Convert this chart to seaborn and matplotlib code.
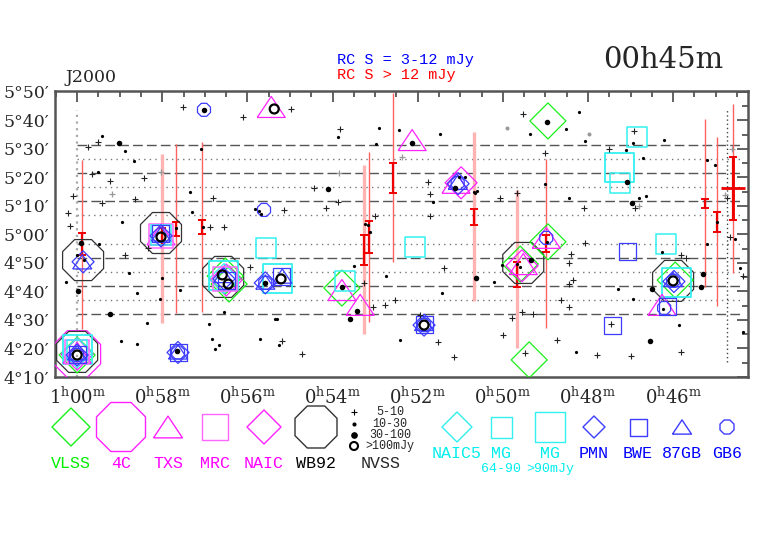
import numpy as np
import matplotlib
matplotlib.use("Agg")
import matplotlib.pyplot as plt
from matplotlib.ticker import MultipleLocator, FuncFormatter
import seaborn as sns

# -----------------------------
# NVSS sources: RA in minutes of time (after 0h), Dec in arcmin
# -----------------------------
nvss_5_10_ra = [57.51, 56.10, 59.74, 59.51, 59.65, 59.22, 58.43, 60.09, 58.64, 59.41,
                60.21, 60.16, 56.88, 56.55, 56.81, 58.87, 58.33, 55.94, 54.97, 53.82,
                54.43, 53.87, 54.15, 55.14, 53.00, 51.75, 51.71, 51.71, 50.06, 49.66,
                53.26, 53.05, 52.77, 52.53, 51.38, 51.52, 51.14, 49.99, 49.78, 51.94,
                55.18, 54.71, 49.52, 49.01, 47.50, 46.92, 46.89, 48.09, 44.73, 48.07,
                48.40, 48.44, 48.35, 48.44, 48.63, 48.44, 49.29, 49.55, 45.81, 45.69,
                44.36, 44.66, 48.72, 47.79, 46.99, 45.81, 49.48, 47.46]
nvss_5_10_dec = [344.7, 341.2, 330.7, 332.5, 321.2, 318.8, 319.8, 313.5, 312.5, 311.0,
                 307.5, 303.0, 302.6, 302.6, 312.8, 292.8, 295.3, 288.6, 344.0, 337.0,
                 316.3, 311.4, 309.3, 308.6, 306.5, 318.4, 314.2, 306.5, 312.8, 314.6,
                 283.0, 274.6, 275.3, 277.0, 288.2, 262.3, 257.0, 264.7, 270.7, 271.7,
                 262.6, 258.1, 342.3, 328.6, 330.0, 336.3, 309.3, 309.3, 312.8, 297.0,
                 293.2, 290.0, 284.0, 282.6, 277.0, 274.6, 272.1, 272.8, 292.8, 291.7,
                 285.4, 299.1, 263.0, 257.7, 257.4, 258.8, 258.4, 268.6]

faint_ra = [58.03, 59.18, 52.37, 53.85, 46.80, 44.61, 44.78]
faint_dec = [321.9, 314.2, 327.2, 321.6, 310.0, 330.0, 313.9]
faint_dot_ra = [49.90, 47.97]
faint_dot_dec = [337.4, 335.3]

nvss_10_30_ra = [59.41, 58.87, 59.51, 58.66, 58.94, 57.35, 57.30, 57.09, 57.67, 57.04,
                 55.82, 55.72, 55.68, 60.00, 59.84, 59.48, 60.26, 58.78, 58.59, 58.36,
                 58.97, 58.59, 58.00, 58.05, 57.58, 56.90, 56.83, 56.76, 56.66, 56.55,
                 55.70, 53.87, 52.91, 52.98, 52.44, 51.47, 51.64, 50.89, 51.03, 50.67,
                 50.60, 50.65, 53.23, 53.16, 53.12, 53.49, 52.74, 51.43, 50.20, 50.02,
                 55.35, 55.30, 55.25, 52.41, 49.36, 48.21, 48.51, 48.07, 47.10, 46.94,
                 46.70, 46.21, 49.01, 48.44, 46.80, 46.63, 45.20, 45.01, 44.97, 47.29,
                 46.94, 46.26, 45.20, 44.54, 44.43, 45.86, 48.28, 44.36, 49.66, 49.59,
                 48.96, 46.23]
nvss_10_30_dec = [334.6, 329.3, 321.9, 325.8, 304.4, 314.9, 307.9, 330.0, 302.3, 302.6,
                  308.9, 308.2, 307.2, 292.8, 291.0, 296.7, 283.3, 286.5, 279.5, 268.9,
                  262.6, 261.6, 284.7, 277.4, 280.5, 268.6, 263.3, 259.8, 261.2, 272.8,
                  263.3, 334.2, 337.4, 331.8, 336.7, 335.3, 311.4, 320.2, 320.2, 314.9,
                  315.3, 314.6, 303.7, 303.3, 300.9, 288.9, 285.4, 279.5, 283.3, 289.3,
                  270.3, 270.3, 261.2, 263.0, 335.3, 343.0, 337.0, 332.8, 329.6, 332.1,
                  326.8, 333.2, 317.7, 312.8, 312.8, 313.5, 326.1, 324.4, 304.4, 280.9,
                  277.4, 293.9, 296.7, 298.4, 288.2, 268.2, 258.8, 265.8, 289.6, 288.6,
                  297.4, 273.9]

nvss_30_100_ra = [59.01, 59.91, 59.98, 59.22, 57.65, 54.10, 50.63, 53.59, 53.42, 48.96,
                  47.08, 46.96, 49.34, 46.49, 45.34, 45.30, 46.54, 52.13, 53.78, 57.02,
                  51.12, 55.58]
nvss_30_100_dec = [332.1, 297.0, 280.2, 272.1, 259.1, 316.0, 284.7, 270.3, 273.2, 339.5,
                   318.4, 311.0, 291.0, 280.9, 281.6, 286.1, 262.6, 332.1, 281.6, 343.7,
                   316.3, 283.0]

nvss_100_ra = [60.00, 58.03, 56.59, 56.45, 55.37, 55.21, 51.85, 46.00]
nvss_100_dec = [257.7, 299.1, 285.8, 282.6, 344.0, 284.4, 268.2, 283.7]

# -----------------------------
# Other catalogues
# -----------------------------
vlss_ra = [60.00, 56.52, 56.43, 53.78, 48.94, 48.94, 49.59, 49.38, 45.95]
vlss_dec = [257.7, 285.4, 282.6, 281.2, 339.8, 297.4, 289.6, 256.0, 284.0]
c4_ra = [60.00]
c4_dec = [258.0]
txs_ra = [60.00, 58.03, 52.13, 55.44, 51.10, 53.78, 53.35, 49.52, 48.98, 46.26]
txs_dec = [258.5, 300.0, 333.1, 344.7, 318.1, 280.5, 275.3, 289.6, 298.8, 275.3]
mrc_ra = [60.00, 58.03, 56.52]
mrc_dec = [258.8, 299.5, 284.4]
naic_ra = [60.00, 50.98, 56.50, 49.55]
naic_dec = [258.0, 318.1, 284.0, 289.0]
wb92_ra = [60.00, 59.86, 58.03, 56.57, 49.52, 46.00]
wb92_dec = [258.8, 291.0, 300.5, 285.1, 290.0, 283.7]
naic5_ra = [60.00, 56.55]
naic5_dec = [258.5, 284.5]
mg64_ra = [55.56, 52.06, 46.16, 46.85, 47.25, 53.71, 58.03, 60.00]
mg64_dec = [295.3, 295.6, 296.7, 334.2, 318.1, 283.7, 299.8, 259.5]
mg90_ra = [55.30, 47.27, 45.93, 60.00, 56.55]
mg90_dec = [284.7, 323.3, 283.0, 259.5, 285.5]
pmn_ra = [60.00, 59.86, 58.03, 56.55, 55.58, 51.85, 51.05, 45.98, 57.63]
pmn_dec = [257.7, 290.4, 299.5, 284.4, 283.0, 268.2, 317.8, 283.5, 258.6]
bwe_ra = [47.08, 47.43, 46.14, 51.85, 57.63, 56.50, 55.20, 58.03, 60.00]
bwe_dec = [293.9, 267.9, 274.6, 268.5, 258.6, 283.8, 285.2, 300.5, 258.0]
gb87_ra = [60.00, 59.88, 58.03, 56.57, 55.18, 55.58, 51.85, 51.06, 46.00, 57.63]
gb87_dec = [258.5, 290.4, 300.2, 285.6, 285.4, 283.3, 268.8, 318.3, 284.2, 258.8]
gb6_ra = [57.02, 55.61, 48.98, 46.21, 51.06, 51.85, 46.00, 60.00, 55.58, 57.63]
gb6_dec = [343.7, 308.6, 298.8, 274.2, 318.0, 268.2, 283.7, 257.7, 283.0, 258.6]

# RC sources: long line = Dec uncertainty, bar = error range
rc_ra = [59.88, 58.00, 57.67, 57.06, 53.26, 53.14, 52.58, 50.67, 49.66, 48.98, 45.25, 44.97, 44.59]
rc_top = [326.1, 328.2, 331.8, 332.5, 324.4, 328.9, 349.6, 336.0, 315.6, 326.5, 340.5, 334.2, 345.8]
rc_bot = [266.8, 268.9, 272.4, 272.8, 265.1, 269.3, 290.3, 276.7, 260.2, 267.2, 281.6, 274.9, 286.5]
rc_hi = [300.5, 302.3, 304.4, 305.1, 299.8, 304.7, 325.1, 308.9, 290.3, 299.8, 312.5, 307.9, 327.2]
rc_lo = [292.8, 296.3, 299.5, 300.2, 289.3, 293.5, 314.6, 303.3, 281.6, 293.9, 309.3, 300.9, 305.1]
rc_faint = [False, True, False, False, True, False, False, True, True, False, False, False, False]

# declination strips
strip_dashed = [331.4, 321.6, 311.8, 291.8, 281.9, 272.1]
strip_dotted = [326.5, 316.7, 306.8, 296.7, 286.8, 277.0]

# -----------------------------
# Styling
# -----------------------------
GREEN = "#19f019"
MAGENTA = "#ff22ff"
CYAN = "#33f0f0"
BLUE = "#3c3cff"
PX = 0.72  # points per pixel at dpi 100
MONO = "Liberation Mono"

tri = [(-1, -0.75), (1, -0.75), (0, 0.75), (-1, -0.75)]

def ms_diamond(w):
    return (w / 1.414 * PX) ** 2

def ms_square(w):
    return (w * PX) ** 2

def ms_oct(w):
    return (w / 0.924 * PX) ** 2

catalogs = [
    # name, ra, dec, marker, size, color, lw
    ("4C", c4_ra, c4_dec, "8", ms_oct(47), MAGENTA, 0.9),
    ("WB92", wb92_ra, wb92_dec, "8", ms_oct(41), "#333333", 0.9),
    ("VLSS", vlss_ra, vlss_dec, "D", ms_diamond(36), GREEN, 0.9),
    ("NAIC", naic_ra, naic_dec, "D", ms_diamond(32), MAGENTA, 0.9),
    ("NAIC5", naic5_ra, naic5_dec, "D", ms_diamond(30), CYAN, 0.9),
    ("MG90", mg90_ra, mg90_dec, "s", ms_square(29), CYAN, 1.3),
    ("TXS", txs_ra, txs_dec, tri, ms_square(28), MAGENTA, 0.9),
    ("MRC", mrc_ra, mrc_dec, "s", ms_square(24), "#ff66ff", 1.1),
    ("MG64", mg64_ra, mg64_dec, "s", ms_square(20), CYAN, 1.1),
    ("PMN", pmn_ra, pmn_dec, "D", ms_diamond(22), BLUE, 0.9),
    ("87GB", gb87_ra, gb87_dec, tri, ms_square(19), BLUE, 0.9),
    ("BWE", bwe_ra, bwe_dec, "s", ms_square(17), BLUE, 0.9),
    ("GB6", gb6_ra, gb6_dec, "8", ms_oct(13), BLUE, 0.9),
]

sns.set_style("white")
plt.rcParams["font.family"] = ["DejaVu Serif"]
plt.rcParams["mathtext.fontset"] = "dejavuserif"

fig = plt.figure(figsize=(7.82, 5.42), dpi=100)
ax = fig.add_axes([55 / 782, 1 - 377 / 542, 693 / 782, 286 / 542])

# strip lines
ax.hlines(strip_dashed, 60.0, 44.36, colors="#555555", linewidth=1.0, linestyles=(0, (7, 3)))
ax.hlines(strip_dotted, 60.0, 44.36, colors="#777777", linewidth=1.0, linestyles=(0, (1, 3)))
ax.vlines([60.0], 250, 343.7, colors="#aaaaaa", linewidth=1.6, linestyles=(0, (1, 2)))
ax.vlines([44.73], 255.3, 343.7, colors="#444444", linewidth=1.0, linestyles=(0, (1, 2)))

# RC sources
for ra, top, bot, hi, lo, faint in zip(rc_ra, rc_top, rc_bot, rc_hi, rc_lo, rc_faint):
    if faint:
        ax.vlines(ra, bot, top, colors="#ffb3b3", linewidth=2.4, zorder=2)
    else:
        ax.vlines(ra, bot, top, colors="#ff6060", linewidth=1.0, zorder=2)
    ax.errorbar(ra, (hi + lo) / 2, yerr=(hi - lo) / 2, fmt="none", ecolor="#ee0000",
                elinewidth=1.6, capsize=3, capthick=1.4, zorder=3)
# extended RC source with RA error
ax.errorbar(rc_ra[-1], 316.3, xerr=0.28, fmt="none", ecolor="#ee0000", elinewidth=2.0, zorder=3)
ax.vlines(rc_ra[-1], rc_lo[-1], rc_hi[-1], colors="#ee0000", linewidth=2.0, zorder=3)

# catalogue markers
for name, ra, dec, mk, s, col, lw in catalogs:
    sns.scatterplot(x=ra, y=dec, marker=mk, s=s, facecolor="none", edgecolor=col,
                    linewidth=lw, ax=ax, zorder=4, legend=False)

# NVSS
sns.scatterplot(x=nvss_5_10_ra, y=nvss_5_10_dec, marker="+", s=(6 * PX) ** 2, color="#222222",
                linewidth=0.8, ax=ax, zorder=5, legend=False)
sns.scatterplot(x=faint_ra, y=faint_dec, marker="+", s=(6 * PX) ** 2, color="#999999",
                linewidth=0.9, ax=ax, zorder=5, legend=False)
sns.scatterplot(x=faint_dot_ra, y=faint_dot_dec, marker="o", s=(4 * PX) ** 2, color="#999999",
                linewidth=0, ax=ax, zorder=5, legend=False)
sns.scatterplot(x=nvss_10_30_ra, y=nvss_10_30_dec, marker="o", s=(3.2 * PX) ** 2, color="black",
                linewidth=0, ax=ax, zorder=5, legend=False)
sns.scatterplot(x=nvss_30_100_ra, y=nvss_30_100_dec, marker="o", s=(5.5 * PX) ** 2, color="black",
                linewidth=0, ax=ax, zorder=5, legend=False)
sns.scatterplot(x=nvss_100_ra, y=nvss_100_dec, marker="o", s=(9 * PX) ** 2, facecolor="none",
                edgecolor="black", linewidth=1.6, ax=ax, zorder=6, legend=False)

# axes
ax.set_xlim(60.52, 44.24)
ax.set_ylim(250.0, 350.3)
ax.xaxis.set_major_locator(MultipleLocator(2))
ax.xaxis.set_minor_locator(MultipleLocator(0.5))
ax.yaxis.set_major_locator(MultipleLocator(10))
ax.yaxis.set_minor_locator(MultipleLocator(5))


def ra_fmt(v, pos):
    v = int(round(v))
    h, m = divmod(v, 60)
    return r"$\mathregular{%d^{h}%02d^{m}}$" % (h, m)


def dec_fmt(v, pos):
    v = int(round(v))
    d, m = divmod(v, 60)
    return "%d\u00b0%02d\u2032" % (d, m)


ax.xaxis.set_major_formatter(FuncFormatter(ra_fmt))
ax.yaxis.set_major_formatter(FuncFormatter(dec_fmt))
ax.tick_params(which="both", direction="in", top=True, right=True, color="#555555", width=1.3)
ax.tick_params(which="major", length=8, labelsize=12.5, pad=4)
ax.tick_params(which="minor", length=4.5)
ax.tick_params(axis="x", labelsize=13, pad=7)
ax.set_xlabel("")
ax.set_ylabel("")
for sp in ax.spines.values():
    sp.set_color("#555555")
    sp.set_linewidth(1.8)

# headings
fig.text(65 / 782, 1 - 77 / 542, "J2000", fontsize=12.5, va="center", ha="left")
fig.text(663 / 782, 1 - 60 / 542, "00h45m", fontsize=21, va="center", ha="center")
fig.text(337 / 782, 1 - 60 / 542, "RC S = 3-12 mJy", fontsize=11, color="blue",
         family=MONO, va="center", ha="left")
fig.text(337 / 782, 1 - 75 / 542, "RC S > 12 mJy", fontsize=11, color="red",
         family=MONO, va="center", ha="left")

# -----------------------------
# Symbol key below the chart
# -----------------------------
lax = fig.add_axes([0, 0, 1, 1], zorder=-1)
lax.set_xlim(0, 782)
lax.set_ylim(542, 0)
lax.axis("off")

key = [
    ("VLSS", 71, "D", ms_diamond(38), GREEN, 463),
    ("4C", 121, "8", ms_oct(49), MAGENTA, 463),
    ("TXS", 168, tri, ms_square(29), MAGENTA, 463),
    ("MRC", 215, "s", ms_square(26), "#ff66ff", 463),
    ("NAIC", 264, "D", ms_diamond(34), MAGENTA, 463),
    ("WB92", 316, "8", ms_oct(42), "#333333", 463),
    ("NAIC5", 457, "D", ms_diamond(30), CYAN, 453),
    ("MG", 501, "s", ms_square(21), CYAN, 453),
    ("MG", 550, "s", ms_square(30), CYAN, 453),
    ("PMN", 594, "D", ms_diamond(22), BLUE, 453),
    ("BWE", 638, "s", ms_square(17), BLUE, 453),
    ("87GB", 682, tri, ms_square(19), BLUE, 453),
    ("GB6", 727, "8", ms_oct(14), BLUE, 453),
]
label_col = {GREEN: "#00ee00", MAGENTA: "#ff00ff", "#ff66ff": "#ff00ff", "#333333": "black",
             CYAN: "#00eeee", BLUE: "blue"}
for name, x, mk, s, col, ylab in key:
    lax.scatter([x], [427], marker=mk, s=s, facecolor="none", edgecolor=col, linewidth=1.0)
    lax.text(x, ylab, name, fontsize=12, family=MONO, color=label_col[col],
             ha="center", va="center")
lax.text(501, 469, "64-90", fontsize=9.5, family=MONO, color="#00eeee", ha="center", va="center")
lax.text(550, 469, ">90mJy", fontsize=9.5, family=MONO, color="#00eeee", ha="center", va="center")

nvss_key = [("5-10", "+", (6 * PX) ** 2, 412), ("10-30", "o", (3 * PX) ** 2, 424),
            ("30-100", "o", (5.5 * PX) ** 2, 435), (">100mJy", "o", (8 * PX) ** 2, 446)]
for lab, mk, s, y in nvss_key:
    if lab.startswith(">"):
        lax.scatter([354], [y], marker=mk, s=s, facecolor="none", edgecolor="black", linewidth=1.5)
    else:
        lax.scatter([354], [y], marker=mk, s=s, color="black", linewidth=0.8)
    lax.text(390, y, lab, fontsize=8.5, family=MONO, ha="center", va="center")
lax.text(381, 463, "NVSS", fontsize=12, family=MONO, ha="center", va="center")

fig.savefig("out.png", dpi=100)
